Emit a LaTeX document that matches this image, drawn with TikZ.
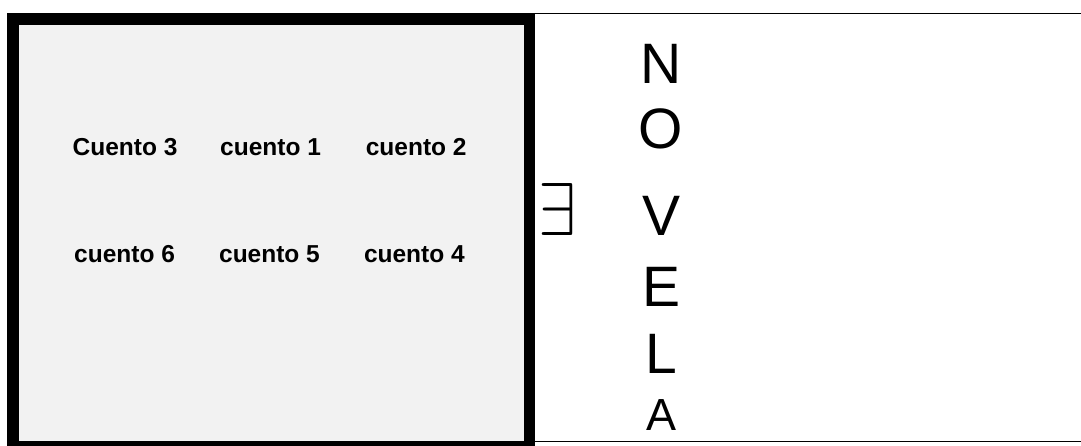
\documentclass[tikz,border=0pt]{standalone}
\usepackage{fontspec}
\setmainfont{Liberation Sans}
\usepackage{xcolor}
\usepackage{tikz}
\definecolor{fondo}{HTML}{F2F2F2}

\begin{document}
\begin{tikzpicture}[x=1pt, y=-1pt, node distance=145.6pt,
        cuento/.style={font=\bfseries\fontsize{24.5}{26}\selectfont, inner sep=0pt, text height=17.5pt, text depth=0pt},
        letra/.style={font=\fontsize{57}{60}\selectfont, inner sep=0pt, anchor=base}]
        \useasboundingbox (0,0) rectangle (1081,445);
        \draw[line width=11.5pt, fill=fondo] (12.75,19.05) rectangle (529.25,446.5);
        \draw[line width=1pt] (535,13.8) -- (1081,13.8);
        \draw[line width=1pt] (535,441.5) -- (1081,441.5);
        \node[cuento] (c3) at (125,146.75) {Cuento 3};
        \node[cuento, right of=c3] (c1) {cuento 1};
        \node[cuento, right of=c1] (c2) {cuento 2};
        \node[cuento] (c6) at (124.6,253.75) {cuento 6};
        \node[cuento, right of=c6, node distance=144.9pt] (c5) {cuento 5};
        \node[cuento, right of=c5, node distance=144.9pt] (c4) {cuento 4};
        \node[inner sep=0pt] (existe) at (557,209) {\resizebox{38pt}{52pt}{$\exists$}};
        \node[letra] (n) at (661,83) {N};
        \node[letra] (o) at (661,148.5) {O};
        \node[letra] (v) at (661,235) {V};
        \node[letra] (e) at (661,306) {E};
        \node[letra] (l) at (661,373) {L};
        \node[letra, font=\fontsize{45}{48}\selectfont] (a) at (661,430) {A};
    \end{tikzpicture}
\end{document}
